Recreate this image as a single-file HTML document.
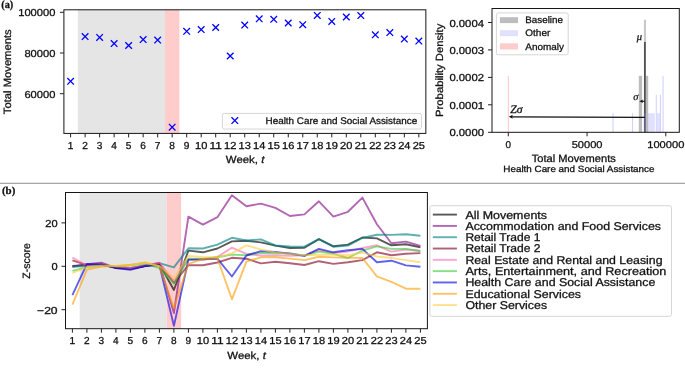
<!DOCTYPE html>
<html><head><meta charset="utf-8"><style>
html,body{margin:0;padding:0;background:#fff;}
svg{display:block;font-family:"Liberation Sans", sans-serif;will-change:transform;}
text{stroke:#111;stroke-width:0.28px;text-rendering:geometricPrecision;}
</style></head><body>
<svg width="685" height="369" viewBox="0 0 685 369">
<defs><clipPath id="clipb"><rect x="65.5" y="192.5" width="361.9" height="136.2"/></clipPath></defs>
<rect x="0" y="0" width="685" height="369" fill="#fff"/>
<text x="1.20" y="7.60" font-size="11.0" text-anchor="start" fill="#111" font-family='"Liberation Serif", serif' font-weight="bold" textLength="12.10" lengthAdjust="spacingAndGlyphs">(a)</text>
<text x="2.00" y="193.80" font-size="10.6" text-anchor="start" fill="#111" font-family='"Liberation Serif", serif' font-weight="bold" textLength="13.30" lengthAdjust="spacingAndGlyphs">(b)</text>
<rect x="0.00" y="182.70" width="685.00" height="1.30" fill="#a8a8a8" />
<rect x="77.85" y="9.80" width="87.06" height="123.60" fill="#e5e5e5" />
<rect x="164.91" y="9.80" width="14.51" height="123.60" fill="#ffcccc" />
<path d="M67.30 78.00L73.90 84.60M67.30 84.60L73.90 78.00" stroke="#0000ff" stroke-width="1.3" fill="none"/>
<path d="M81.81 33.30L88.41 39.90M81.81 39.90L88.41 33.30" stroke="#0000ff" stroke-width="1.3" fill="none"/>
<path d="M96.32 34.10L102.92 40.70M96.32 40.70L102.92 34.10" stroke="#0000ff" stroke-width="1.3" fill="none"/>
<path d="M110.83 40.30L117.43 46.90M110.83 46.90L117.43 40.30" stroke="#0000ff" stroke-width="1.3" fill="none"/>
<path d="M125.34 42.20L131.94 48.80M125.34 48.80L131.94 42.20" stroke="#0000ff" stroke-width="1.3" fill="none"/>
<path d="M139.85 36.30L146.45 42.90M139.85 42.90L146.45 36.30" stroke="#0000ff" stroke-width="1.3" fill="none"/>
<path d="M154.36 36.80L160.96 43.40M154.36 43.40L160.96 36.80" stroke="#0000ff" stroke-width="1.3" fill="none"/>
<path d="M168.87 123.90L175.47 130.50M168.87 130.50L175.47 123.90" stroke="#0000ff" stroke-width="1.3" fill="none"/>
<path d="M183.38 28.00L189.98 34.60M183.38 34.60L189.98 28.00" stroke="#0000ff" stroke-width="1.3" fill="none"/>
<path d="M197.89 26.30L204.49 32.90M197.89 32.90L204.49 26.30" stroke="#0000ff" stroke-width="1.3" fill="none"/>
<path d="M212.40 24.20L219.00 30.80M212.40 30.80L219.00 24.20" stroke="#0000ff" stroke-width="1.3" fill="none"/>
<path d="M226.91 52.70L233.51 59.30M226.91 59.30L233.51 52.70" stroke="#0000ff" stroke-width="1.3" fill="none"/>
<path d="M241.42 21.80L248.02 28.40M241.42 28.40L248.02 21.80" stroke="#0000ff" stroke-width="1.3" fill="none"/>
<path d="M255.93 15.50L262.53 22.10M255.93 22.10L262.53 15.50" stroke="#0000ff" stroke-width="1.3" fill="none"/>
<path d="M270.44 16.00L277.04 22.60M270.44 22.60L277.04 16.00" stroke="#0000ff" stroke-width="1.3" fill="none"/>
<path d="M284.95 19.70L291.55 26.30M284.95 26.30L291.55 19.70" stroke="#0000ff" stroke-width="1.3" fill="none"/>
<path d="M299.46 21.40L306.06 28.00M299.46 28.00L306.06 21.40" stroke="#0000ff" stroke-width="1.3" fill="none"/>
<path d="M313.97 12.10L320.57 18.70M313.97 18.70L320.57 12.10" stroke="#0000ff" stroke-width="1.3" fill="none"/>
<path d="M328.48 18.10L335.08 24.70M328.48 24.70L335.08 18.10" stroke="#0000ff" stroke-width="1.3" fill="none"/>
<path d="M342.99 13.70L349.59 20.30M342.99 20.30L349.59 13.70" stroke="#0000ff" stroke-width="1.3" fill="none"/>
<path d="M357.50 12.30L364.10 18.90M357.50 18.90L364.10 12.30" stroke="#0000ff" stroke-width="1.3" fill="none"/>
<path d="M372.01 31.50L378.61 38.10M372.01 38.10L378.61 31.50" stroke="#0000ff" stroke-width="1.3" fill="none"/>
<path d="M386.52 29.30L393.12 35.90M386.52 35.90L393.12 29.30" stroke="#0000ff" stroke-width="1.3" fill="none"/>
<path d="M401.03 35.80L407.63 42.40M401.03 42.40L407.63 35.80" stroke="#0000ff" stroke-width="1.3" fill="none"/>
<path d="M415.54 37.80L422.14 44.40M415.54 44.40L422.14 37.80" stroke="#0000ff" stroke-width="1.3" fill="none"/>
<rect x="222.4" y="113.4" width="199.1" height="15.6" rx="2" ry="2" fill="#fff" fill-opacity="0.8" stroke="#d6d6d6" stroke-width="1"/>
<path d="M231.50 117.30L238.10 123.90M231.50 123.90L238.10 117.30" stroke="#0000ff" stroke-width="1.3" fill="none"/>
<text x="265.50" y="123.60" font-size="9.6" text-anchor="start" fill="#111" textLength="151.70" lengthAdjust="spacingAndGlyphs">Health Care and Social Assistance</text>
<rect x="63.9" y="9.8" width="361.95000000000005" height="123.60000000000001" fill="none" stroke="#161616" stroke-width="1.0"/>
<line x1="70.60" y1="133.40" x2="70.60" y2="137.40" stroke="#222" stroke-width="1" />
<text x="70.60" y="148.80" font-size="10.1" text-anchor="middle" fill="#111">1</text>
<line x1="85.11" y1="133.40" x2="85.11" y2="137.40" stroke="#222" stroke-width="1" />
<text x="85.11" y="148.80" font-size="10.1" text-anchor="middle" fill="#111">2</text>
<line x1="99.62" y1="133.40" x2="99.62" y2="137.40" stroke="#222" stroke-width="1" />
<text x="99.62" y="148.80" font-size="10.1" text-anchor="middle" fill="#111">3</text>
<line x1="114.13" y1="133.40" x2="114.13" y2="137.40" stroke="#222" stroke-width="1" />
<text x="114.13" y="148.80" font-size="10.1" text-anchor="middle" fill="#111">4</text>
<line x1="128.64" y1="133.40" x2="128.64" y2="137.40" stroke="#222" stroke-width="1" />
<text x="128.64" y="148.80" font-size="10.1" text-anchor="middle" fill="#111">5</text>
<line x1="143.15" y1="133.40" x2="143.15" y2="137.40" stroke="#222" stroke-width="1" />
<text x="143.15" y="148.80" font-size="10.1" text-anchor="middle" fill="#111">6</text>
<line x1="157.66" y1="133.40" x2="157.66" y2="137.40" stroke="#222" stroke-width="1" />
<text x="157.66" y="148.80" font-size="10.1" text-anchor="middle" fill="#111">7</text>
<line x1="172.17" y1="133.40" x2="172.17" y2="137.40" stroke="#222" stroke-width="1" />
<text x="172.17" y="148.80" font-size="10.1" text-anchor="middle" fill="#111">8</text>
<line x1="186.68" y1="133.40" x2="186.68" y2="137.40" stroke="#222" stroke-width="1" />
<text x="186.68" y="148.80" font-size="10.1" text-anchor="middle" fill="#111">9</text>
<line x1="201.19" y1="133.40" x2="201.19" y2="137.40" stroke="#222" stroke-width="1" />
<text x="201.19" y="148.80" font-size="10.1" text-anchor="middle" fill="#111" textLength="12.30" lengthAdjust="spacingAndGlyphs">10</text>
<line x1="215.70" y1="133.40" x2="215.70" y2="137.40" stroke="#222" stroke-width="1" />
<text x="215.70" y="148.80" font-size="10.1" text-anchor="middle" fill="#111" textLength="12.30" lengthAdjust="spacingAndGlyphs">11</text>
<line x1="230.21" y1="133.40" x2="230.21" y2="137.40" stroke="#222" stroke-width="1" />
<text x="230.21" y="148.80" font-size="10.1" text-anchor="middle" fill="#111" textLength="12.30" lengthAdjust="spacingAndGlyphs">12</text>
<line x1="244.72" y1="133.40" x2="244.72" y2="137.40" stroke="#222" stroke-width="1" />
<text x="244.72" y="148.80" font-size="10.1" text-anchor="middle" fill="#111" textLength="12.30" lengthAdjust="spacingAndGlyphs">13</text>
<line x1="259.23" y1="133.40" x2="259.23" y2="137.40" stroke="#222" stroke-width="1" />
<text x="259.23" y="148.80" font-size="10.1" text-anchor="middle" fill="#111" textLength="12.30" lengthAdjust="spacingAndGlyphs">14</text>
<line x1="273.74" y1="133.40" x2="273.74" y2="137.40" stroke="#222" stroke-width="1" />
<text x="273.74" y="148.80" font-size="10.1" text-anchor="middle" fill="#111" textLength="12.30" lengthAdjust="spacingAndGlyphs">15</text>
<line x1="288.25" y1="133.40" x2="288.25" y2="137.40" stroke="#222" stroke-width="1" />
<text x="288.25" y="148.80" font-size="10.1" text-anchor="middle" fill="#111" textLength="12.30" lengthAdjust="spacingAndGlyphs">16</text>
<line x1="302.76" y1="133.40" x2="302.76" y2="137.40" stroke="#222" stroke-width="1" />
<text x="302.76" y="148.80" font-size="10.1" text-anchor="middle" fill="#111" textLength="12.30" lengthAdjust="spacingAndGlyphs">17</text>
<line x1="317.27" y1="133.40" x2="317.27" y2="137.40" stroke="#222" stroke-width="1" />
<text x="317.27" y="148.80" font-size="10.1" text-anchor="middle" fill="#111" textLength="12.30" lengthAdjust="spacingAndGlyphs">18</text>
<line x1="331.78" y1="133.40" x2="331.78" y2="137.40" stroke="#222" stroke-width="1" />
<text x="331.78" y="148.80" font-size="10.1" text-anchor="middle" fill="#111" textLength="12.30" lengthAdjust="spacingAndGlyphs">19</text>
<line x1="346.29" y1="133.40" x2="346.29" y2="137.40" stroke="#222" stroke-width="1" />
<text x="346.29" y="148.80" font-size="10.1" text-anchor="middle" fill="#111" textLength="12.30" lengthAdjust="spacingAndGlyphs">20</text>
<line x1="360.80" y1="133.40" x2="360.80" y2="137.40" stroke="#222" stroke-width="1" />
<text x="360.80" y="148.80" font-size="10.1" text-anchor="middle" fill="#111" textLength="12.30" lengthAdjust="spacingAndGlyphs">21</text>
<line x1="375.31" y1="133.40" x2="375.31" y2="137.40" stroke="#222" stroke-width="1" />
<text x="375.31" y="148.80" font-size="10.1" text-anchor="middle" fill="#111" textLength="12.30" lengthAdjust="spacingAndGlyphs">22</text>
<line x1="389.82" y1="133.40" x2="389.82" y2="137.40" stroke="#222" stroke-width="1" />
<text x="389.82" y="148.80" font-size="10.1" text-anchor="middle" fill="#111" textLength="12.30" lengthAdjust="spacingAndGlyphs">23</text>
<line x1="404.33" y1="133.40" x2="404.33" y2="137.40" stroke="#222" stroke-width="1" />
<text x="404.33" y="148.80" font-size="10.1" text-anchor="middle" fill="#111" textLength="12.30" lengthAdjust="spacingAndGlyphs">24</text>
<line x1="418.84" y1="133.40" x2="418.84" y2="137.40" stroke="#222" stroke-width="1" />
<text x="418.84" y="148.80" font-size="10.1" text-anchor="middle" fill="#111" textLength="12.30" lengthAdjust="spacingAndGlyphs">25</text>
<line x1="59.90" y1="12.30" x2="63.90" y2="12.30" stroke="#222" stroke-width="1" />
<text x="55.40" y="16.10" font-size="10.1" text-anchor="end" fill="#111" textLength="37.20" lengthAdjust="spacingAndGlyphs">100000</text>
<line x1="59.90" y1="53.00" x2="63.90" y2="53.00" stroke="#222" stroke-width="1" />
<text x="55.40" y="56.80" font-size="10.1" text-anchor="end" fill="#111" textLength="31.00" lengthAdjust="spacingAndGlyphs">80000</text>
<line x1="59.90" y1="93.70" x2="63.90" y2="93.70" stroke="#222" stroke-width="1" />
<text x="55.40" y="97.50" font-size="10.1" text-anchor="end" fill="#111" textLength="31.00" lengthAdjust="spacingAndGlyphs">60000</text>
<text x="225.8" y="163.0" font-size="10.4" fill="#111" textLength="38.6" lengthAdjust="spacingAndGlyphs">Week, <tspan font-style="italic">t</tspan></text>
<text transform="translate(10.9,71.75) rotate(-90)" x="0" y="0" font-size="10.6" text-anchor="middle" fill="#111" textLength="84.9" lengthAdjust="spacingAndGlyphs">Total Movements</text>
<rect x="643.80" y="113.20" width="11.00" height="19.10" fill="#e0e0ff" />
<rect x="656.80" y="113.20" width="3.20" height="19.10" fill="#e0e0ff" />
<rect x="612.45" y="113.20" width="1.10" height="19.10" fill="#d2d2ff" />
<rect x="631.95" y="113.20" width="1.10" height="19.10" fill="#d2d2ff" />
<rect x="655.80" y="94.80" width="1.00" height="37.50" fill="#d2d2ff" />
<rect x="659.90" y="94.80" width="1.10" height="37.50" fill="#d2d2ff" />
<rect x="662.50" y="75.80" width="1.10" height="56.50" fill="#d2d2ff" />
<rect x="638.80" y="75.80" width="3.30" height="56.50" fill="#bdbdbd" />
<rect x="645.50" y="75.80" width="2.70" height="56.50" fill="#bdbdbd" />
<rect x="643.90" y="19.70" width="2.10" height="112.60" fill="#c8c8c8" />
<rect x="507.80" y="76.00" width="1.00" height="56.30" fill="#ffc6c6" />
<line x1="644.90" y1="42.00" x2="644.90" y2="132.30" stroke="#333" stroke-width="1.4" />
<rect x="643.90" y="113.20" width="2.00" height="19.10" fill="#8080ff" fill-opacity="0.3"/>
<line x1="512.00" y1="116.85" x2="644.90" y2="117.35" stroke="#111" stroke-width="1.1" />
<path d="M508.8 116.85 L512.8 114.85 L512.0 116.85 L512.8 118.85 Z" fill="#111"/>
<line x1="642.00" y1="101.30" x2="644.90" y2="101.30" stroke="#111" stroke-width="1.0" />
<path d="M639.4 101.3 L643.0 99.6 L642.3 101.3 L643.0 103.0 Z" fill="#111"/>
<text x="636.70" y="40.10" font-size="10.5" text-anchor="start" fill="#111" font-family='"Liberation Serif", serif' font-style="italic">μ</text>
<text x="633.20" y="99.60" font-size="10.5" text-anchor="start" fill="#111" font-family='"Liberation Serif", serif' font-style="italic">σ</text>
<text x="510.20" y="112.60" font-size="11.6" text-anchor="start" fill="#111" font-family='"Liberation Serif", serif' font-style="italic" textLength="12.30" lengthAdjust="spacingAndGlyphs">Zσ</text>
<rect x="496.4" y="12.9" width="71.8" height="41.9" rx="2" ry="2" fill="#fff" fill-opacity="0.8" stroke="#d6d6d6" stroke-width="1"/>
<rect x="499.90" y="17.20" width="18.10" height="5.90" fill="#bdbdbd" />
<rect x="499.90" y="30.20" width="18.10" height="6.00" fill="#e0e0ff" />
<rect x="499.90" y="43.30" width="18.10" height="6.20" fill="#ffcccc" />
<text x="525.30" y="23.20" font-size="9.5" text-anchor="start" fill="#111" textLength="37.60" lengthAdjust="spacingAndGlyphs">Baseline</text>
<text x="525.30" y="36.30" font-size="9.5" text-anchor="start" fill="#111" textLength="25.00" lengthAdjust="spacingAndGlyphs">Other</text>
<text x="525.30" y="49.50" font-size="9.5" text-anchor="start" fill="#111" textLength="38.70" lengthAdjust="spacingAndGlyphs">Anomaly</text>
<rect x="492.0" y="8.5" width="187.29999999999995" height="123.80000000000001" fill="none" stroke="#161616" stroke-width="1.0"/>
<line x1="488.00" y1="22.50" x2="492.00" y2="22.50" stroke="#222" stroke-width="1" />
<text x="484.00" y="26.50" font-size="10.1" text-anchor="end" fill="#111" textLength="34.60" lengthAdjust="spacingAndGlyphs">0.0004</text>
<line x1="488.00" y1="49.90" x2="492.00" y2="49.90" stroke="#222" stroke-width="1" />
<text x="484.00" y="53.90" font-size="10.1" text-anchor="end" fill="#111" textLength="34.60" lengthAdjust="spacingAndGlyphs">0.0003</text>
<line x1="488.00" y1="77.40" x2="492.00" y2="77.40" stroke="#222" stroke-width="1" />
<text x="484.00" y="81.40" font-size="10.1" text-anchor="end" fill="#111" textLength="34.60" lengthAdjust="spacingAndGlyphs">0.0002</text>
<line x1="488.00" y1="104.80" x2="492.00" y2="104.80" stroke="#222" stroke-width="1" />
<text x="484.00" y="108.80" font-size="10.1" text-anchor="end" fill="#111" textLength="34.60" lengthAdjust="spacingAndGlyphs">0.0001</text>
<line x1="488.00" y1="132.30" x2="492.00" y2="132.30" stroke="#222" stroke-width="1" />
<text x="484.00" y="136.30" font-size="10.1" text-anchor="end" fill="#111" textLength="34.60" lengthAdjust="spacingAndGlyphs">0.0000</text>
<line x1="508.30" y1="132.30" x2="508.30" y2="136.30" stroke="#222" stroke-width="1" />
<text x="508.30" y="147.80" font-size="9.9" text-anchor="middle" fill="#111">0</text>
<line x1="587.05" y1="132.30" x2="587.05" y2="136.30" stroke="#222" stroke-width="1" />
<text x="587.05" y="147.80" font-size="9.9" text-anchor="middle" fill="#111" textLength="30.85" lengthAdjust="spacingAndGlyphs">50000</text>
<line x1="665.80" y1="132.30" x2="665.80" y2="136.30" stroke="#222" stroke-width="1" />
<text x="665.80" y="147.80" font-size="9.9" text-anchor="middle" fill="#111" textLength="37.02" lengthAdjust="spacingAndGlyphs">100000</text>
<text x="573.80" y="162.20" font-size="10.6" text-anchor="middle" fill="#111" textLength="84.00" lengthAdjust="spacingAndGlyphs">Total Movements</text>
<text x="578.90" y="171.80" font-size="9.0" text-anchor="middle" fill="#111" textLength="151.20" lengthAdjust="spacingAndGlyphs">Health Care and Social Assistance</text>
<text transform="translate(442.9,70.3) rotate(-90)" x="0" y="0" font-size="10.4" text-anchor="middle" fill="#111" textLength="93.2" lengthAdjust="spacingAndGlyphs">Probability Density</text>
<rect x="79.65" y="192.50" width="87.00" height="136.20" fill="#e5e5e5" />
<rect x="166.65" y="192.50" width="14.50" height="136.20" fill="#ffcccc" />
<g clip-path="url(#clipb)">
<polyline points="72.40,266.00 86.90,265.10 101.40,264.60 115.90,267.50 130.40,268.50 144.90,266.00 159.40,264.00 173.90,290.00 188.40,250.60 202.90,252.30 217.40,248.50 231.90,241.40 246.40,240.80 260.90,242.40 275.40,245.60 289.90,248.00 304.40,247.80 318.90,239.10 333.40,246.30 347.90,244.60 362.40,237.50 376.90,238.40 391.40,245.30 405.90,244.20 420.40,247.40" fill="none" stroke="#000000" stroke-opacity="0.65" stroke-width="1.9" stroke-linejoin="round"/>
<polyline points="72.40,266.50 86.90,264.10 101.40,262.60 115.90,268.00 130.40,269.00 144.90,266.00 159.40,262.90 173.90,313.00 188.40,216.70 202.90,224.60 217.40,217.20 231.90,195.20 246.40,206.30 260.90,203.60 275.40,207.80 289.90,216.00 304.40,214.40 318.90,201.30 333.40,216.60 347.90,211.80 362.40,197.60 376.90,224.20 391.40,243.30 405.90,241.60 420.40,246.00" fill="none" stroke="#800080" stroke-opacity="0.6" stroke-width="1.9" stroke-linejoin="round"/>
<polyline points="72.40,267.00 86.90,265.60 101.40,265.10 115.90,267.00 130.40,268.00 144.90,265.50 159.40,263.10 173.90,267.30 188.40,248.30 202.90,248.50 217.40,244.60 231.90,237.80 246.40,240.50 260.90,239.40 275.40,245.50 289.90,246.50 304.40,246.70 318.90,239.10 333.40,246.70 347.90,245.60 362.40,238.00 376.90,234.70 391.40,234.90 405.90,234.20 420.40,235.80" fill="none" stroke="#008080" stroke-opacity="0.63" stroke-width="1.9" stroke-linejoin="round"/>
<polyline points="72.40,260.40 86.90,265.10 101.40,264.60 115.90,267.50 130.40,268.50 144.90,266.00 159.40,263.50 173.90,283.00 188.40,265.20 202.90,265.20 217.40,262.50 231.90,257.80 246.40,258.70 260.90,263.40 275.40,261.70 289.90,263.30 304.40,265.00 318.90,261.20 333.40,263.90 347.90,262.20 362.40,260.10 376.90,252.30 391.40,255.20 405.90,253.80 420.40,253.10" fill="none" stroke="#800020" stroke-opacity="0.62" stroke-width="1.9" stroke-linejoin="round"/>
<polyline points="72.40,257.60 86.90,265.60 101.40,264.60 115.90,267.00 130.40,268.00 144.90,265.50 159.40,262.60 173.90,281.00 188.40,259.00 202.90,259.90 217.40,256.90 231.90,247.60 246.40,253.80 260.90,255.50 275.40,255.50 289.90,255.90 304.40,255.30 318.90,250.20 333.40,253.10 347.90,251.60 362.40,248.00 376.90,245.30 391.40,251.60 405.90,249.50 420.40,251.00" fill="none" stroke="#ff69b4" stroke-opacity="0.6" stroke-width="1.9" stroke-linejoin="round"/>
<polyline points="72.40,270.90 86.90,267.10 101.40,265.60 115.90,266.50 130.40,265.00 144.90,263.50 159.40,268.10 173.90,283.70 188.40,258.70 202.90,258.70 217.40,257.30 231.90,254.60 246.40,255.20 260.90,252.90 275.40,253.50 289.90,253.10 304.40,255.90 318.90,251.60 333.40,253.80 347.90,258.00 362.40,250.60 376.90,246.40 391.40,248.90 405.90,248.90 420.40,251.00" fill="none" stroke="#32cd32" stroke-opacity="0.6" stroke-width="1.9" stroke-linejoin="round"/>
<polyline points="72.40,295.20 86.90,263.90 101.40,264.40 115.90,268.10 130.40,269.90 144.90,266.00 159.40,265.10 173.90,325.90 188.40,259.90 202.90,259.40 217.40,258.70 231.90,276.50 246.40,255.50 260.90,251.10 275.40,252.00 289.90,253.80 304.40,255.90 318.90,248.90 333.40,252.30 347.90,250.20 362.40,248.90 376.90,262.20 391.40,260.70 405.90,265.40 420.40,266.70" fill="none" stroke="#0000e6" stroke-opacity="0.62" stroke-width="1.9" stroke-linejoin="round"/>
<polyline points="72.40,304.60 86.90,269.60 101.40,266.60 115.90,266.00 130.40,265.10 144.90,262.40 159.40,266.40 173.90,308.20 188.40,263.90 202.90,259.00 217.40,258.30 231.90,299.30 246.40,261.70 260.90,257.30 275.40,257.30 289.90,258.60 304.40,260.10 318.90,256.80 333.40,257.40 347.90,257.80 362.40,258.00 376.90,276.40 391.40,281.90 405.90,288.70 420.40,288.70" fill="none" stroke="#ff9b00" stroke-opacity="0.6" stroke-width="1.9" stroke-linejoin="round"/>
<polyline points="72.40,272.80 86.90,267.10 101.40,265.60 115.90,266.00 130.40,265.00 144.90,262.80 159.40,266.00 173.90,278.30 188.40,256.00 202.90,256.90 217.40,257.30 231.90,253.30 246.40,245.40 260.90,249.40 275.40,252.50 289.90,254.00 304.40,255.30 318.90,254.80 333.40,254.80 347.90,255.20 362.40,252.70 376.90,256.50 391.40,258.00 405.90,260.10 420.40,262.20" fill="none" stroke="#ffcd3c" stroke-opacity="0.6" stroke-width="1.9" stroke-linejoin="round"/>
</g>
<rect x="65.5" y="192.5" width="361.9" height="136.2" fill="none" stroke="#161616" stroke-width="1.0"/>
<line x1="72.40" y1="328.70" x2="72.40" y2="332.70" stroke="#222" stroke-width="1" />
<text x="72.40" y="344.10" font-size="10.1" text-anchor="middle" fill="#111">1</text>
<line x1="86.90" y1="328.70" x2="86.90" y2="332.70" stroke="#222" stroke-width="1" />
<text x="86.90" y="344.10" font-size="10.1" text-anchor="middle" fill="#111">2</text>
<line x1="101.40" y1="328.70" x2="101.40" y2="332.70" stroke="#222" stroke-width="1" />
<text x="101.40" y="344.10" font-size="10.1" text-anchor="middle" fill="#111">3</text>
<line x1="115.90" y1="328.70" x2="115.90" y2="332.70" stroke="#222" stroke-width="1" />
<text x="115.90" y="344.10" font-size="10.1" text-anchor="middle" fill="#111">4</text>
<line x1="130.40" y1="328.70" x2="130.40" y2="332.70" stroke="#222" stroke-width="1" />
<text x="130.40" y="344.10" font-size="10.1" text-anchor="middle" fill="#111">5</text>
<line x1="144.90" y1="328.70" x2="144.90" y2="332.70" stroke="#222" stroke-width="1" />
<text x="144.90" y="344.10" font-size="10.1" text-anchor="middle" fill="#111">6</text>
<line x1="159.40" y1="328.70" x2="159.40" y2="332.70" stroke="#222" stroke-width="1" />
<text x="159.40" y="344.10" font-size="10.1" text-anchor="middle" fill="#111">7</text>
<line x1="173.90" y1="328.70" x2="173.90" y2="332.70" stroke="#222" stroke-width="1" />
<text x="173.90" y="344.10" font-size="10.1" text-anchor="middle" fill="#111">8</text>
<line x1="188.40" y1="328.70" x2="188.40" y2="332.70" stroke="#222" stroke-width="1" />
<text x="188.40" y="344.10" font-size="10.1" text-anchor="middle" fill="#111">9</text>
<line x1="202.90" y1="328.70" x2="202.90" y2="332.70" stroke="#222" stroke-width="1" />
<text x="202.90" y="344.10" font-size="10.1" text-anchor="middle" fill="#111" textLength="12.30" lengthAdjust="spacingAndGlyphs">10</text>
<line x1="217.40" y1="328.70" x2="217.40" y2="332.70" stroke="#222" stroke-width="1" />
<text x="217.40" y="344.10" font-size="10.1" text-anchor="middle" fill="#111" textLength="12.30" lengthAdjust="spacingAndGlyphs">11</text>
<line x1="231.90" y1="328.70" x2="231.90" y2="332.70" stroke="#222" stroke-width="1" />
<text x="231.90" y="344.10" font-size="10.1" text-anchor="middle" fill="#111" textLength="12.30" lengthAdjust="spacingAndGlyphs">12</text>
<line x1="246.40" y1="328.70" x2="246.40" y2="332.70" stroke="#222" stroke-width="1" />
<text x="246.40" y="344.10" font-size="10.1" text-anchor="middle" fill="#111" textLength="12.30" lengthAdjust="spacingAndGlyphs">13</text>
<line x1="260.90" y1="328.70" x2="260.90" y2="332.70" stroke="#222" stroke-width="1" />
<text x="260.90" y="344.10" font-size="10.1" text-anchor="middle" fill="#111" textLength="12.30" lengthAdjust="spacingAndGlyphs">14</text>
<line x1="275.40" y1="328.70" x2="275.40" y2="332.70" stroke="#222" stroke-width="1" />
<text x="275.40" y="344.10" font-size="10.1" text-anchor="middle" fill="#111" textLength="12.30" lengthAdjust="spacingAndGlyphs">15</text>
<line x1="289.90" y1="328.70" x2="289.90" y2="332.70" stroke="#222" stroke-width="1" />
<text x="289.90" y="344.10" font-size="10.1" text-anchor="middle" fill="#111" textLength="12.30" lengthAdjust="spacingAndGlyphs">16</text>
<line x1="304.40" y1="328.70" x2="304.40" y2="332.70" stroke="#222" stroke-width="1" />
<text x="304.40" y="344.10" font-size="10.1" text-anchor="middle" fill="#111" textLength="12.30" lengthAdjust="spacingAndGlyphs">17</text>
<line x1="318.90" y1="328.70" x2="318.90" y2="332.70" stroke="#222" stroke-width="1" />
<text x="318.90" y="344.10" font-size="10.1" text-anchor="middle" fill="#111" textLength="12.30" lengthAdjust="spacingAndGlyphs">18</text>
<line x1="333.40" y1="328.70" x2="333.40" y2="332.70" stroke="#222" stroke-width="1" />
<text x="333.40" y="344.10" font-size="10.1" text-anchor="middle" fill="#111" textLength="12.30" lengthAdjust="spacingAndGlyphs">19</text>
<line x1="347.90" y1="328.70" x2="347.90" y2="332.70" stroke="#222" stroke-width="1" />
<text x="347.90" y="344.10" font-size="10.1" text-anchor="middle" fill="#111" textLength="12.30" lengthAdjust="spacingAndGlyphs">20</text>
<line x1="362.40" y1="328.70" x2="362.40" y2="332.70" stroke="#222" stroke-width="1" />
<text x="362.40" y="344.10" font-size="10.1" text-anchor="middle" fill="#111" textLength="12.30" lengthAdjust="spacingAndGlyphs">21</text>
<line x1="376.90" y1="328.70" x2="376.90" y2="332.70" stroke="#222" stroke-width="1" />
<text x="376.90" y="344.10" font-size="10.1" text-anchor="middle" fill="#111" textLength="12.30" lengthAdjust="spacingAndGlyphs">22</text>
<line x1="391.40" y1="328.70" x2="391.40" y2="332.70" stroke="#222" stroke-width="1" />
<text x="391.40" y="344.10" font-size="10.1" text-anchor="middle" fill="#111" textLength="12.30" lengthAdjust="spacingAndGlyphs">23</text>
<line x1="405.90" y1="328.70" x2="405.90" y2="332.70" stroke="#222" stroke-width="1" />
<text x="405.90" y="344.10" font-size="10.1" text-anchor="middle" fill="#111" textLength="12.30" lengthAdjust="spacingAndGlyphs">24</text>
<line x1="420.40" y1="328.70" x2="420.40" y2="332.70" stroke="#222" stroke-width="1" />
<text x="420.40" y="344.10" font-size="10.1" text-anchor="middle" fill="#111" textLength="12.30" lengthAdjust="spacingAndGlyphs">25</text>
<line x1="61.50" y1="222.90" x2="65.50" y2="222.90" stroke="#222" stroke-width="1" />
<text x="57.60" y="226.90" font-size="10.1" text-anchor="end" fill="#111" textLength="12.34" lengthAdjust="spacingAndGlyphs">20</text>
<line x1="61.50" y1="266.30" x2="65.50" y2="266.30" stroke="#222" stroke-width="1" />
<text x="57.60" y="270.30" font-size="10.1" text-anchor="end" fill="#111" textLength="6.17" lengthAdjust="spacingAndGlyphs">0</text>
<line x1="61.50" y1="309.70" x2="65.50" y2="309.70" stroke="#222" stroke-width="1" />
<text x="57.60" y="313.70" font-size="10.1" text-anchor="end" fill="#111" textLength="20.50" lengthAdjust="spacingAndGlyphs">−20</text>
<text x="227.3" y="358.7" font-size="10.4" fill="#111" textLength="38.6" lengthAdjust="spacingAndGlyphs">Week, <tspan font-style="italic">t</tspan></text>
<text transform="translate(29.7,260.95) rotate(-90)" x="0" y="0" font-size="10.6" text-anchor="middle" fill="#111" textLength="35.5" lengthAdjust="spacingAndGlyphs">Z-score</text>
<rect x="429.9" y="205.7" width="241.6" height="110.6" rx="2" ry="2" fill="#fff" fill-opacity="0.8" stroke="#d6d6d6" stroke-width="1"/>
<line x1="432.80" y1="214.60" x2="456.90" y2="214.60" stroke="#000000" stroke-width="1.9" stroke-opacity="0.65"/>
<text x="465.40" y="218.50" font-size="11.3" text-anchor="start" fill="#111" textLength="81.60" lengthAdjust="spacingAndGlyphs">All Movements</text>
<line x1="432.80" y1="225.91" x2="456.90" y2="225.91" stroke="#800080" stroke-width="1.9" stroke-opacity="0.6"/>
<text x="465.40" y="229.81" font-size="11.3" text-anchor="start" fill="#111" textLength="195.60" lengthAdjust="spacingAndGlyphs">Accommodation and Food Services</text>
<line x1="432.80" y1="237.22" x2="456.90" y2="237.22" stroke="#008080" stroke-width="1.9" stroke-opacity="0.63"/>
<text x="465.40" y="241.12" font-size="11.3" text-anchor="start" fill="#111" textLength="75.00" lengthAdjust="spacingAndGlyphs">Retail Trade 1</text>
<line x1="432.80" y1="248.53" x2="456.90" y2="248.53" stroke="#800020" stroke-width="1.9" stroke-opacity="0.62"/>
<text x="465.40" y="252.43" font-size="11.3" text-anchor="start" fill="#111" textLength="75.00" lengthAdjust="spacingAndGlyphs">Retail Trade 2</text>
<line x1="432.80" y1="259.84" x2="456.90" y2="259.84" stroke="#ff69b4" stroke-width="1.9" stroke-opacity="0.6"/>
<text x="465.40" y="263.74" font-size="11.3" text-anchor="start" fill="#111" textLength="197.10" lengthAdjust="spacingAndGlyphs">Real Estate and Rental and Leasing</text>
<line x1="432.80" y1="271.15" x2="456.90" y2="271.15" stroke="#32cd32" stroke-width="1.9" stroke-opacity="0.6"/>
<text x="465.40" y="275.05" font-size="11.3" text-anchor="start" fill="#111" textLength="201.00" lengthAdjust="spacingAndGlyphs">Arts, Entertainment, and Recreation</text>
<line x1="432.80" y1="282.46" x2="456.90" y2="282.46" stroke="#0000e6" stroke-width="1.9" stroke-opacity="0.62"/>
<text x="465.40" y="286.36" font-size="11.3" text-anchor="start" fill="#111" textLength="189.90" lengthAdjust="spacingAndGlyphs">Health Care and Social Assistance</text>
<line x1="432.80" y1="293.77" x2="456.90" y2="293.77" stroke="#ff9b00" stroke-width="1.9" stroke-opacity="0.6"/>
<text x="465.40" y="297.67" font-size="11.3" text-anchor="start" fill="#111" textLength="115.60" lengthAdjust="spacingAndGlyphs">Educational Services</text>
<line x1="432.80" y1="305.08" x2="456.90" y2="305.08" stroke="#ffcd3c" stroke-width="1.9" stroke-opacity="0.6"/>
<text x="465.40" y="308.98" font-size="11.3" text-anchor="start" fill="#111" textLength="81.70" lengthAdjust="spacingAndGlyphs">Other Services</text>
</svg>
</body></html>
